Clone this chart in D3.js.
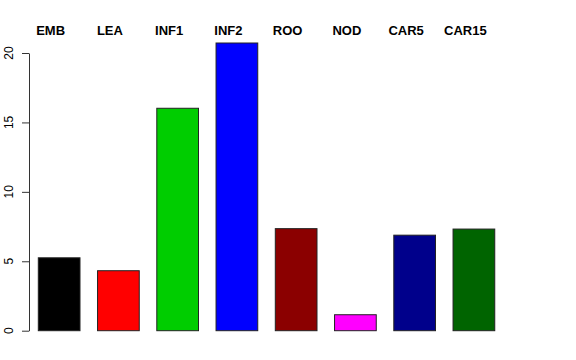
<!DOCTYPE html>
<html>
<head>
<meta charset="utf-8">
<script src="https://cdn.jsdelivr.net/npm/d3@7"></script>
<style>
  body { margin: 0; background: #fff; }
  svg { display: block; font-family: "Liberation Sans", Arial, Helvetica, sans-serif; }
</style>
</head>
<body>
<svg id="chart" width="576" height="360"></svg>
<script>
// bar data
const categories = ["EMB", "LEA", "INF1", "INF2", "ROO", "NOD", "CAR5", "CAR15"];
const values     = [5.25, 4.32, 16.02, 20.72, 7.35, 1.15, 6.88, 7.32];
const colors     = ["#000000", "#ff0000", "#00cd00", "#0000ff", "#8b0000", "#ff00ff", "#00008b", "#006400"];
const yTicks     = [0, 5, 10, 15, 20];

const svg = d3.select("#chart");

// plot region
const y0 = 330.7, y20 = 53;
const y = d3.scaleLinear().domain([0, 20]).range([y0, y20]);

// band scale: bars ~42px wide, 59.25px apart, first starting at 38.3
const step = 59.25, barW = 41.7, firstX = 38.3;
const pad = 1 - barW / step;
const x = d3.scaleBand()
    .domain(categories)
    .range([firstX - (step - barW) / 2, firstX - (step - barW) / 2 + step * categories.length])
    .paddingInner(pad).paddingOuter(pad / 2);

// bars
svg.append("g").selectAll("rect")
    .data(categories)
    .join("rect")
    .attr("x", d => x(d))
    .attr("y", (d, i) => y(values[i]))
    .attr("width", x.bandwidth())
    .attr("height", (d, i) => y(0) - y(values[i]))
    .attr("fill", (d, i) => colors[i])
    .attr("stroke", "#222")
    .attr("stroke-width", 1);

// labels on top, slightly left of bar centres (as in the reference)
svg.append("g").selectAll("text")
    .data(categories)
    .join("text")
    .attr("x", d => x(d) + x.bandwidth() / 2 - 8.5)
    .attr("y", 34.7)
    .attr("text-anchor", "middle")
    .attr("font-size", "13px")
    .attr("font-weight", "bold")
    .attr("fill", "#000")
    .text(d => d);

// y axis, R style with rotated tick labels
const yAx = svg.append("g")
    .attr("transform", "translate(29,0)")
    .call(d3.axisLeft(y).tickValues(yTicks).tickSize(7).tickSizeOuter(0));
yAx.select(".domain").attr("stroke", "#333");
yAx.selectAll(".tick line").attr("stroke", "#333");
yAx.selectAll(".tick text").remove();

svg.append("g").selectAll("text")
    .data(yTicks)
    .join("text")
    .attr("transform", d => `translate(12.7,${y(d)}) rotate(-90)`)
    .attr("text-anchor", "middle")
    .attr("font-size", "12px")
    .attr("fill", "#000")
    .text(d => d);
</script>
</body>
</html>
